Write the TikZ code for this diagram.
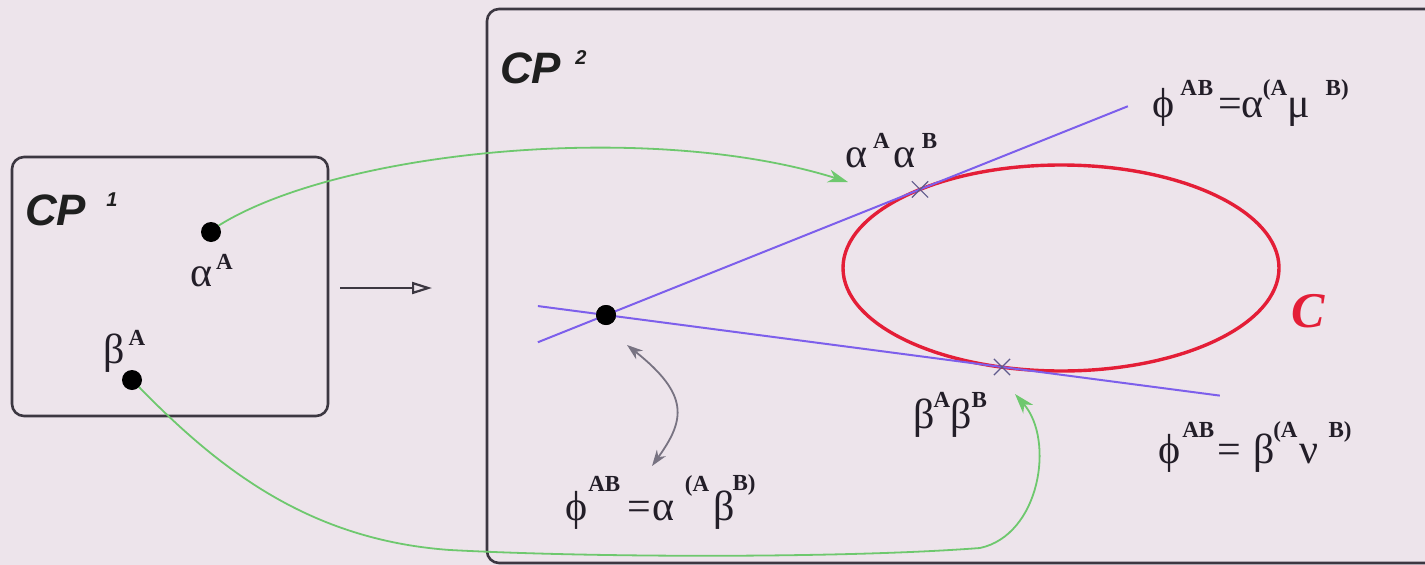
\documentclass[tikz,border=0pt]{standalone}
\usepackage{fontspec}
\setmainfont{Liberation Serif}
\newfontfamily\cpfont{Liberation Sans}
\usetikzlibrary{arrows.meta,calc,shapes.misc}
\definecolor{bgc}{RGB}{237,228,235}
\definecolor{boxc}{RGB}{60,55,65}
\definecolor{greenc}{RGB}{110,200,110}
\definecolor{purplec}{RGB}{125,95,235}
\definecolor{redc}{RGB}{228,30,55}
\definecolor{greyc}{RGB}{120,115,130}
\definecolor{textc}{RGB}{35,30,40}
\definecolor{crossc}{RGB}{95,90,140}
\newcommand\hi[2][20pt]{\raisebox{#1}{\fontsize{23}{23}\selectfont\bfseries #2}}
\newcommand\gk{\fontsize{42}{44}\selectfont}
\newcommand\cpsup[1]{\raisebox{19pt}{\fontsize{20}{20}\selectfont\cpfont\bfseries\itshape #1}}
\begin{document}
\begin{tikzpicture}[x=1pt,y=-1pt,
  box/.style={draw=boxc,line width=2.6pt,rounded corners=12pt},
  dot/.style={circle,fill=black,minimum size=20pt,inner sep=0},
  lbl/.style={inner sep=0,anchor=base west,text=textc,font=\gk},
  cplbl/.style={inner sep=0,anchor=base west,text=black!88,font=\cpfont\fontsize{44}{46}\selectfont\bfseries\itshape},
  tangent/.style={draw=purplec,line width=2pt},
  conic/.style={draw=redc,line width=3.4pt},
  xmark/.style={cross out,draw=crossc,line width=1.2pt,minimum size=15pt,inner sep=0},
  garrow/.style={draw=greenc,line width=1.8pt,-{Stealth[length=20pt,width=13pt,inset=6pt]}},
  grarrow/.style={draw=greyc,line width=1.8pt,{Stealth[length=16pt,width=11pt,inset=5pt]}-{Stealth[length=16pt,width=11pt,inset=5pt]}}
]
\useasboundingbox (0,0) rectangle (1425,565);
\fill[bgc] (0,0) rectangle (1425,565);
% boxes
\draw[box] (12,157) rectangle (328,416);
\draw[box] (487,9) rectangle (1450,563);
% labels of boxes
\node[cplbl] (cp1) at (25,225) {CP\kern20pt\cpsup{1}};
\node[cplbl] (cp2) at (500,83) {CP\kern14pt\cpsup{2}};
% dots
\node[dot] (adot) at (211,232) {};
\node[dot] (bdot) at (132,380) {};
\node[dot] (p) at (606,315) {};
\node[lbl] (alA) at (190,286) {α\kern4pt\hi[17pt]{A}};
\node[lbl] (beA) at (103,363) {β\kern4pt\hi[18pt]{A}};
% map arrow
\coordinate (mA) at (340,288);
\coordinate (mB) at (432,288);
\draw[draw=boxc,line width=2.2pt,-{Triangle[open,length=20pt,width=12pt]}] (mA) -- (mB);
% conic
\draw[conic] (1061,268) ellipse [x radius=218, y radius=103];
\coordinate (t1) at (920,189.4);
\coordinate (t2) at (1002,367);
\draw[tangent] ($(p)!-0.217!(t1)$) -- ($(p)!1.662!(t1)$);
\draw[tangent] ($(p)!-0.172!(t2)$) -- ($(p)!1.55!(t2)$);
\node[dot] at (p) {};
\node[xmark] (x1) at (t1) {};
\node[xmark] (x2) at (t2) {};
\node[inner sep=0,anchor=base west,text=redc,font=\fontsize{50}{52}\selectfont\bfseries\itshape] (C) at (1291,327) {C};
% labels
\node[lbl] (aa) at (845,167) {α\kern6pt\hi[19pt]{A}\kern4ptα\kern6pt\hi[19pt]{B}};
\node[lbl] (phi1) at (1152,117) {ϕ\kern6pt\hi[22pt]{A\kern1ptB}\kern5pt=α\kern-1pt\hi[22pt]{(A}\kern0ptμ\kern16pt\hi[22pt]{B)}};
\node[lbl] (bb) at (913,428) {β\kern-1pt\hi[21pt]{A}β\hi[21pt]{B}};
\node[lbl] (phi2) at (1158,463) {ϕ\kern2pt\hi[26pt]{AB}\kern3pt=\kern13ptβ\kern-2pt\hi[26pt]{(A}\kern2ptν\kern10pt\hi[26pt]{B)}};
\node[lbl] (phi3) at (565,520) {ϕ\kern1pt\hi[29pt]{AB}\kern7pt=\kern2ptα\kern10pt\hi[29pt]{(A}\kern4ptβ\kern-2pt\hi[30pt]{B)}};
% green arrows
\coordinate (g1end) at (848,182);
\coordinate (g2end) at (1015,394);
\draw[garrow] (adot.40) .. controls (340,150) and (650,120) .. (g1end);
\draw[garrow] (bdot.-45) .. controls (220,470) and (310,540) .. (450,550)
   .. controls (600,558) and (850,558) .. (980,548)
   .. controls (1040,535) and (1055,440) .. (g2end);
% grey double arrow
\coordinate (ga) at (627,345);
\coordinate (gb) at (652,466);
\draw[grarrow] (ga) .. controls (690,395) and (685,420) .. (gb);
\end{tikzpicture}
\end{document}
